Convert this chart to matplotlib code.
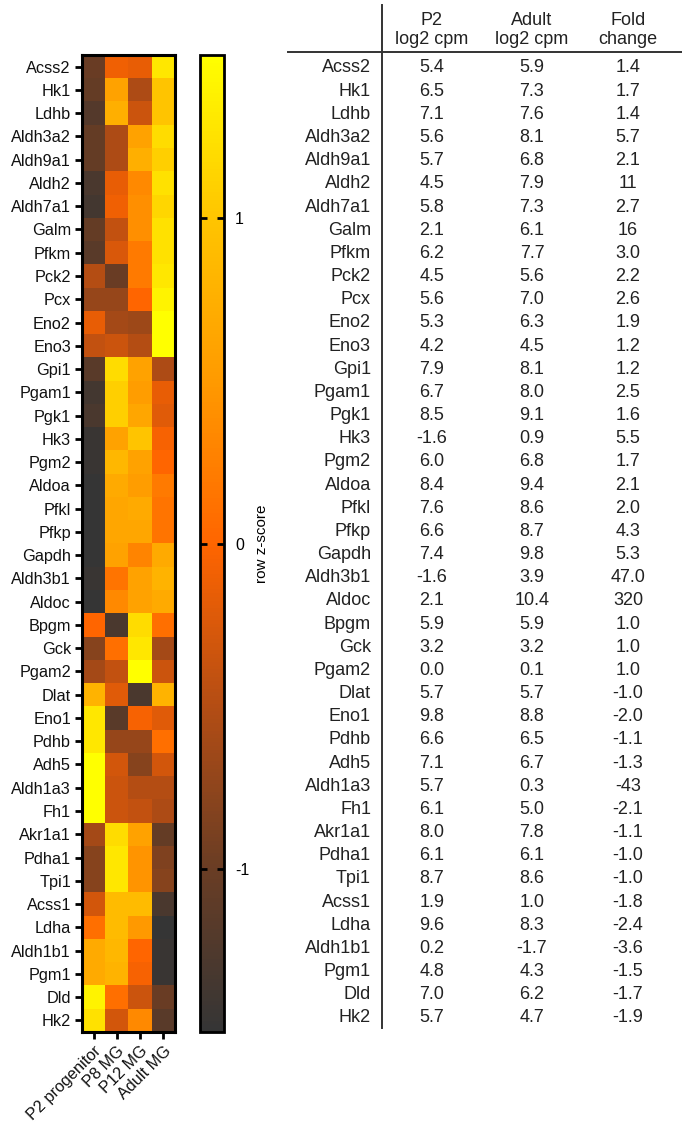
import numpy as np
import matplotlib
matplotlib.use("Agg")
import matplotlib.pyplot as plt
from matplotlib.colors import LinearSegmentedColormap

plt.rcParams['font.family'] = ['Liberation Sans', 'DejaVu Sans']

# ---- data -------------------------------------------------------------
genes = ["Acss2", "Hk1", "Ldhb", "Aldh3a2", "Aldh9a1", "Aldh2", "Aldh7a1",
         "Galm", "Pfkm", "Pck2", "Pcx", "Eno2", "Eno3", "Gpi1", "Pgam1",
         "Pgk1", "Hk3", "Pgm2", "Aldoa", "Pfkl", "Pfkp", "Gapdh", "Aldh3b1",
         "Aldoc", "Bpgm", "Gck", "Pgam2", "Dlat", "Eno1", "Pdhb", "Adh5",
         "Aldh1a3", "Fh1", "Akr1a1", "Pdha1", "Tpi1", "Acss1", "Ldha",
         "Aldh1b1", "Pgm1", "Dld", "Hk2"]

stages = ["P2 progenitor", "P8 MG", "P12 MG", "Adult MG"]

# row z-scores per stage (P2, P8, P12, Adult)
zscores = np.array([
    [-1.00, -0.10, -0.15, 1.30],
    [-1.05, 0.60, -0.55, 1.00],
    [-1.20, 0.75, -0.35, 1.00],
    [-1.05, -0.55, 0.60, 1.20],
    [-1.05, -0.55, 0.75, 1.10],
    [-1.30, -0.15, 0.35, 1.25],
    [-1.35, -0.10, 0.40, 1.15],
    [-1.05, -0.40, 0.40, 1.25],
    [-1.15, -0.25, 0.20, 1.25],
    [-0.50, -1.00, 0.20, 1.30],
    [-0.70, -0.70, 0.00, 1.40],
    [-0.15, -0.60, -0.65, 1.50],
    [-0.40, -0.35, -0.50, 1.50],
    [-1.15, 1.20, 0.60, -0.55],
    [-1.35, 1.10, 0.55, -0.15],
    [-1.30, 1.10, 0.65, -0.20],
    [-1.45, 0.60, 1.00, -0.05],
    [-1.45, 0.85, 0.60, 0.00],
    [-1.50, 0.70, 0.55, 0.20],
    [-1.50, 0.65, 0.70, 0.15],
    [-1.50, 0.65, 0.65, 0.15],
    [-1.50, 0.60, 0.30, 0.70],
    [-1.45, 0.15, 0.60, 0.80],
    [-1.50, 0.35, 0.60, 0.70],
    [0.00, -1.30, 1.20, 0.10],
    [-0.80, 0.10, 1.30, -0.60],
    [-0.60, -0.40, 1.50, -0.35],
    [0.80, -0.20, -1.30, 0.80],
    [1.30, -1.15, -0.05, -0.20],
    [1.30, -0.70, -0.70, 0.10],
    [1.50, -0.30, -0.80, -0.30],
    [1.50, -0.35, -0.50, -0.50],
    [1.50, -0.35, -0.40, -0.55],
    [-0.60, 1.20, 0.60, -1.05],
    [-0.80, 1.30, 0.45, -0.85],
    [-0.80, 1.30, 0.45, -0.80],
    [-0.30, 0.90, 0.90, -1.30],
    [0.10, 0.90, 0.50, -1.50],
    [0.70, 0.85, 0.00, -1.45],
    [0.70, 0.80, -0.05, -1.45],
    [1.40, 0.10, -0.35, -1.00],
    [1.25, -0.30, 0.35, -1.15],
])

p2_log2cpm = [5.4, 6.5, 7.1, 5.6, 5.7, 4.5, 5.8, 2.1, 6.2, 4.5, 5.6, 5.3, 4.2,
              7.9, 6.7, 8.5, -1.6, 6.0, 8.4, 7.6, 6.6, 7.4, -1.6, 2.1, 5.9,
              3.2, 0.0, 5.7, 9.8, 6.6, 7.1, 5.7, 6.1, 8.0, 6.1, 8.7, 1.9,
              9.6, 0.2, 4.8, 7.0, 5.7]
adult_log2cpm = [5.9, 7.3, 7.6, 8.1, 6.8, 7.9, 7.3, 6.1, 7.7, 5.6, 7.0, 6.3,
                 4.5, 8.1, 8.0, 9.1, 0.9, 6.8, 9.4, 8.6, 8.7, 9.8, 3.9, 10.4,
                 5.9, 3.2, 0.1, 5.7, 8.8, 6.5, 6.7, 0.3, 5.0, 7.8, 6.1, 8.6,
                 1.0, 8.3, -1.7, 4.3, 6.2, 4.7]
fold_change = ["1.4", "1.7", "1.4", "5.7", "2.1", "11", "2.7", "16", "3.0",
               "2.2", "2.6", "1.9", "1.2", "1.2", "2.5", "1.6", "5.5", "1.7",
               "2.1", "2.0", "4.3", "5.3", "47.0", "320", "1.0", "1.0", "1.0",
               "-1.0", "-2.0", "-1.1", "-1.3", "-43", "-2.1", "-1.1", "-1.0",
               "-1.0", "-1.8", "-2.4", "-3.6", "-1.5", "-1.7", "-1.9"]

col_headers = ["P2\nlog2 cpm", "Adult\nlog2 cpm", "Fold\nchange"]
cbar_ticks = [-1, 0, 1]

# ---- figure -----------------------------------------------------------
W, H = 682, 1124
fig = plt.figure(figsize=(W / 100, H / 100), dpi=100)

def px_axes(x0, y0, x1, y1):
    return fig.add_axes([x0 / W, 1 - y1 / H, (x1 - x0) / W, (y1 - y0) / H])

cmap = LinearSegmentedColormap.from_list("zmap", [
    (0.000, "#353535"),
    (0.167, "#6a3d24"),
    (0.333, "#b44d14"),
    (0.500, "#ff6500"),
    (0.667, "#ff9a00"),
    (0.833, "#ffc400"),
    (1.000, "#ffff00"),
])
vmin, vmax = -1.5, 1.5

# heatmap
ax = px_axes(82, 55, 175, 1032)
im = ax.imshow(zscores, cmap=cmap, vmin=vmin, vmax=vmax, aspect="auto",
               interpolation="nearest")
ax.set_yticks(range(len(genes)))
ax.set_yticklabels(genes, fontsize=11.7, color="#111111")
ax.set_xticks(range(len(stages)))
ax.set_xticklabels(stages, fontsize=11.7, rotation=45, ha="right",
                   rotation_mode="anchor", color="#111111")
ax.tick_params(axis="both", length=5, width=2, color="black", pad=3)
for s in ax.spines.values():
    s.set_linewidth(2.2)

# colorbar
cax = px_axes(200, 55, 224, 1032)
cb = fig.colorbar(im, cax=cax, ticks=cbar_ticks)
cb.ax.set_yticklabels([str(t) for t in cbar_ticks], fontsize=11.5)
cb.ax.tick_params(direction="in", left=True, right=True, length=5, width=2,
                  pad=8)
cb.outline.set_linewidth(2)
cb.set_label("row z-score", fontsize=11, labelpad=4)

# table of expression values
tax = px_axes(0, 0, W, H)
tax.set_xlim(0, W)
tax.set_ylim(H, 0)
tax.axis("off")

row_y0, row_dy = 68, 23.17
name_x, col_x = 371, [432, 532, 628]
txt_color = "#222222"
fs = 13

tax.plot([382, 382], [5, 1028], color="#333333", lw=1.4)
tax.plot([288, W], [52, 52], color="#333333", lw=1.4)

for cx, head in zip(col_x, col_headers):
    tax.text(cx, 30, head, ha="center", va="center", fontsize=fs,
             linespacing=1.2, color=txt_color)

for i, g in enumerate(genes):
    y = row_y0 + i * row_dy
    tax.text(name_x, y, g, ha="right", va="center", fontsize=fs,
             color=txt_color)
    tax.text(col_x[0], y, f"{p2_log2cpm[i]:.1f}", ha="center", va="center",
             fontsize=fs, color=txt_color)
    tax.text(col_x[1], y, f"{adult_log2cpm[i]:.1f}", ha="center",
             va="center", fontsize=fs, color=txt_color)
    tax.text(col_x[2], y, fold_change[i], ha="center", va="center",
             fontsize=fs, color=txt_color)

fig.savefig("out.png", dpi=100)
